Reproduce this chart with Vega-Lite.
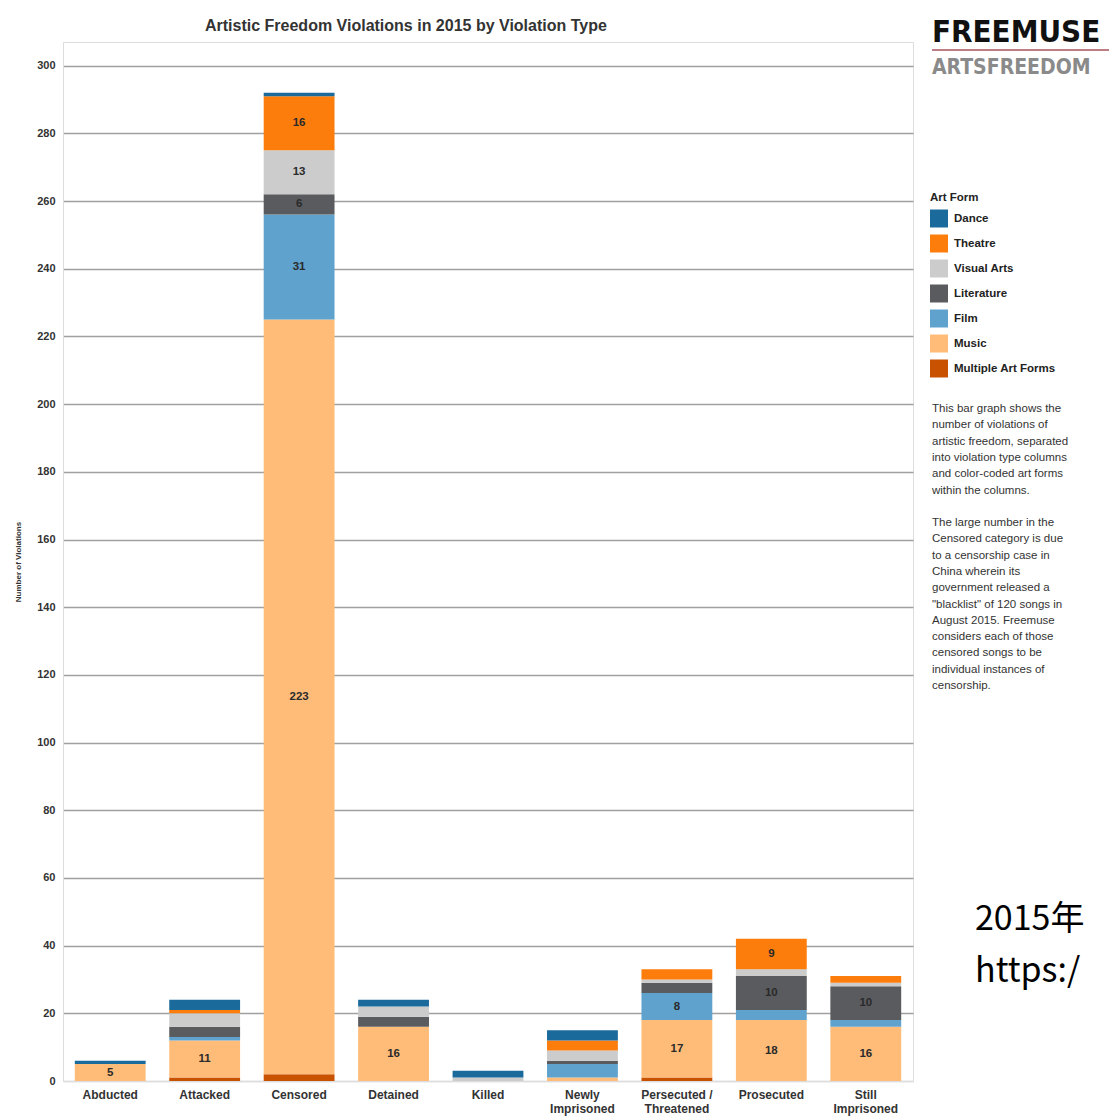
{
  "$schema": "https://vega.github.io/schema/vega-lite/v6.json",
  "width": 850,
  "height": 1039,
  "autosize": {"type": "none"},
  "padding": {"left": 63, "top": 42, "right": 196, "bottom": 38},
  "background": "white",
  "config": {
    "font": "Liberation Sans",
    "view": {"stroke": "#dddddd", "strokeWidth": 1}
  },
  "title": {
    "text": "Artistic Freedom Violations in 2015 by Violation Type",
    "anchor": "start",
    "frame": "group",
    "dx": 142,
    "offset": -17,
    "fontSize": 16,
    "fontWeight": "bold",
    "color": "#333333"
  },
  "datasets": {
    "violations": [
      {"type": "Abducted", "form": "Music", "count": 5},
      {"type": "Abducted", "form": "Dance", "count": 1},
      {"type": "Attacked", "form": "Multiple Art Forms", "count": 1},
      {"type": "Attacked", "form": "Music", "count": 11},
      {"type": "Attacked", "form": "Film", "count": 1},
      {"type": "Attacked", "form": "Literature", "count": 3},
      {"type": "Attacked", "form": "Visual Arts", "count": 4},
      {"type": "Attacked", "form": "Theatre", "count": 1},
      {"type": "Attacked", "form": "Dance", "count": 3},
      {"type": "Censored", "form": "Multiple Art Forms", "count": 2},
      {"type": "Censored", "form": "Music", "count": 223},
      {"type": "Censored", "form": "Film", "count": 31},
      {"type": "Censored", "form": "Literature", "count": 6},
      {"type": "Censored", "form": "Visual Arts", "count": 13},
      {"type": "Censored", "form": "Theatre", "count": 16},
      {"type": "Censored", "form": "Dance", "count": 1},
      {"type": "Detained", "form": "Music", "count": 16},
      {"type": "Detained", "form": "Literature", "count": 3},
      {"type": "Detained", "form": "Visual Arts", "count": 3},
      {"type": "Detained", "form": "Dance", "count": 2},
      {"type": "Killed", "form": "Visual Arts", "count": 1},
      {"type": "Killed", "form": "Dance", "count": 2},
      {"type": "Newly Imprisoned", "form": "Music", "count": 1},
      {"type": "Newly Imprisoned", "form": "Film", "count": 4},
      {"type": "Newly Imprisoned", "form": "Literature", "count": 1},
      {"type": "Newly Imprisoned", "form": "Visual Arts", "count": 3},
      {"type": "Newly Imprisoned", "form": "Theatre", "count": 3},
      {"type": "Newly Imprisoned", "form": "Dance", "count": 3},
      {"type": "Persecuted / Threatened", "form": "Multiple Art Forms", "count": 1},
      {"type": "Persecuted / Threatened", "form": "Music", "count": 17},
      {"type": "Persecuted / Threatened", "form": "Film", "count": 8},
      {"type": "Persecuted / Threatened", "form": "Literature", "count": 3},
      {"type": "Persecuted / Threatened", "form": "Visual Arts", "count": 1},
      {"type": "Persecuted / Threatened", "form": "Theatre", "count": 3},
      {"type": "Prosecuted", "form": "Music", "count": 18},
      {"type": "Prosecuted", "form": "Film", "count": 3},
      {"type": "Prosecuted", "form": "Literature", "count": 10},
      {"type": "Prosecuted", "form": "Visual Arts", "count": 2},
      {"type": "Prosecuted", "form": "Theatre", "count": 9},
      {"type": "Still Imprisoned", "form": "Music", "count": 16},
      {"type": "Still Imprisoned", "form": "Film", "count": 2},
      {"type": "Still Imprisoned", "form": "Literature", "count": 10},
      {"type": "Still Imprisoned", "form": "Visual Arts", "count": 1},
      {"type": "Still Imprisoned", "form": "Theatre", "count": 2}
    ]
  },
  "layer": [
    {
      "data": {"name": "violations"},
      "transform": [
        {"calculate": "indexof(['Multiple Art Forms','Music','Film','Literature','Visual Arts','Theatre','Dance'], datum.form)", "as": "ord"},
        {"stack": "count", "groupby": ["type"], "sort": [{"field": "ord", "order": "ascending"}], "as": ["y0", "y1"]}
      ],
      "mark": {"type": "bar"},
      "encoding": {
        "x": {
          "field": "type",
          "type": "nominal",
          "sort": ["Abducted", "Attacked", "Censored", "Detained", "Killed", "Newly Imprisoned", "Persecuted / Threatened", "Prosecuted", "Still Imprisoned"],
          "scale": {"paddingInner": 0.25, "paddingOuter": 0.125},
          "axis": {
            "title": null,
            "labelAngle": 0,
            "labelFontSize": 12,
            "labelFontWeight": "bold",
            "labelColor": "#333333",
            "labelBaseline": "top",
            "labelPadding": 8,
            "labelLineHeight": 14,
            "ticks": false,
            "domainColor": "#dddddd",
            "domainWidth": 1.5,
            "labelExpr": "datum.label == 'Newly Imprisoned' ? ['Newly', 'Imprisoned'] : datum.label == 'Persecuted / Threatened' ? ['Persecuted /', 'Threatened'] : datum.label == 'Still Imprisoned' ? ['Still', 'Imprisoned'] : datum.label"
          }
        },
        "y": {
          "field": "y0",
          "type": "quantitative",
          "scale": {"domain": [0, 307], "nice": false, "zero": true},
          "axis": {
            "title": "Number of Violations",
            "titleFontSize": 8,
            "titleFontWeight": "bold",
            "titleColor": "#333333",
            "titlePadding": 14,
            "values": [0, 20, 40, 60, 80, 100, 120, 140, 160, 180, 200, 220, 240, 260, 280, 300],
            "labelFontSize": 11,
            "labelFontWeight": "bold",
            "labelColor": "#333333",
            "labelPadding": 8,
            "ticks": false,
            "domainColor": "#dddddd",
            "grid": true,
            "gridColor": {"condition": {"test": "datum.value == 0", "value": "#dddddd"}, "value": "#a0a0a0"},
            "gridWidth": 1.5
          }
        },
        "y2": {"field": "y1"},
        "color": {
          "field": "form",
          "type": "nominal",
          "scale": {
            "domain": ["Dance", "Theatre", "Visual Arts", "Literature", "Film", "Music", "Multiple Art Forms"],
            "range": ["#1a6a9c", "#fc7d0b", "#cccccc", "#5a5b5e", "#5fa2ce", "#ffbc79", "#c85200"]
          },
          "legend": {
            "orient": "none",
            "legendX": 867,
            "legendY": 150,
            "title": "Art Form",
            "titleFontSize": 11.5,
            "titleFontWeight": "bold",
            "titleColor": "#222222",
            "titlePadding": 6,
            "labelFontSize": 11.5,
            "labelFontWeight": "bold",
            "labelColor": "#222222",
            "labelOffset": 6,
            "symbolType": "square",
            "symbolSize": 324,
            "symbolStrokeWidth": 0,
            "symbolOpacity": 1,
            "rowPadding": 7
          }
        }
      }
    },
    {
      "data": {"name": "violations"},
      "transform": [
        {"calculate": "indexof(['Multiple Art Forms','Music','Film','Literature','Visual Arts','Theatre','Dance'], datum.form)", "as": "ord"},
        {"stack": "count", "groupby": ["type"], "sort": [{"field": "ord", "order": "ascending"}], "as": ["y0", "y1"]},
        {"filter": "datum.count >= 5"},
        {"calculate": "(datum.y0 + datum.y1) / 2", "as": "mid"}
      ],
      "mark": {"type": "text", "fontSize": 11.5, "fontWeight": "bold", "color": "#2a2a2a", "baseline": "middle"},
      "encoding": {
        "x": {"field": "type", "type": "nominal", "sort": ["Abducted", "Attacked", "Censored", "Detained", "Killed", "Newly Imprisoned", "Persecuted / Threatened", "Prosecuted", "Still Imprisoned"]},
        "y": {"field": "mid", "type": "quantitative", "axis": {"title": "Number of Violations"}},
        "text": {"field": "count", "type": "quantitative"}
      }
    },
    {
      "data": {"values": [{"t": "FREEMUSE"}]},
      "mark": {"type": "text", "font": "Liberation Sans Narrow, DejaVu Sans Condensed", "fontSize": 31, "fontWeight": "bold", "color": "#111111", "align": "left", "baseline": "alphabetic"},
      "encoding": {"x": {"value": 869}, "y": {"value": 0}, "text": {"field": "t"}}
    },
    {
      "data": {"values": [{"t": "line"}]},
      "mark": {"type": "rule", "color": "#a8505c", "strokeWidth": 1.5},
      "encoding": {"x": {"value": 869}, "x2": {"value": 1046}, "y": {"value": 8}}
    },
    {
      "data": {"values": [{"t": "ARTSFREEDOM"}]},
      "mark": {"type": "text", "font": "Liberation Sans Narrow, DejaVu Sans Condensed", "fontSize": 21, "fontWeight": "bold", "color": "#8a8a8a", "align": "left", "baseline": "alphabetic"},
      "encoding": {"x": {"value": 869}, "y": {"value": 32}, "text": {"field": "t"}}
    },
    {
      "data": {"values": [{"t": "This bar graph shows the\nnumber of violations of\nartistic freedom, separated\ninto violation type columns\nand color-coded art forms\nwithin the columns."}]},
      "mark": {"type": "text", "fontSize": 11.5, "color": "#333333", "align": "left", "baseline": "top", "lineBreak": "\n", "lineHeight": 16.3},
      "encoding": {"x": {"value": 869}, "y": {"value": 361}, "text": {"field": "t"}}
    },
    {
      "data": {"values": [{"t": "The large number in the\nCensored category is due\nto a censorship case in\nChina wherein its\ngovernment released a\n\"blacklist\" of 120 songs in\nAugust 2015. Freemuse\nconsiders each of those\ncensored songs to be\nindividual instances of\ncensorship."}]},
      "mark": {"type": "text", "fontSize": 11.5, "color": "#333333", "align": "left", "baseline": "top", "lineBreak": "\n", "lineHeight": 16.3},
      "encoding": {"x": {"value": 869}, "y": {"value": 475}, "text": {"field": "t"}}
    },
    {
      "data": {"values": [{"t": "2015年"}]},
      "mark": {"type": "text", "font": "Noto Sans CJK SC", "fontSize": 34, "color": "#000000", "align": "left", "baseline": "alphabetic"},
      "encoding": {"x": {"value": 912}, "y": {"value": 888}, "text": {"field": "t"}}
    },
    {
      "data": {"values": [{"t": "https:/"}]},
      "mark": {"type": "text", "font": "Noto Sans CJK SC", "fontSize": 34, "color": "#000000", "align": "left", "baseline": "alphabetic"},
      "encoding": {"x": {"value": 912}, "y": {"value": 940}, "text": {"field": "t"}}
    }
  ]
}
